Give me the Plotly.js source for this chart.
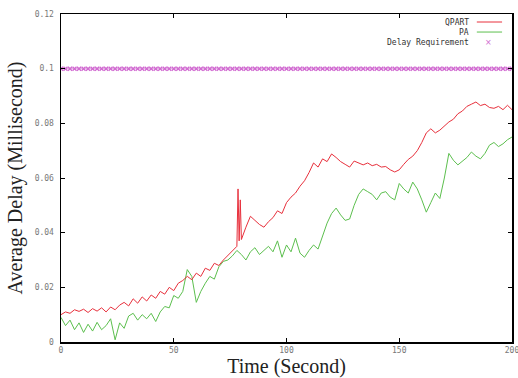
<!DOCTYPE html>
<html>
<head>
<meta charset="utf-8">
<script src="https://cdn.plot.ly/plotly-3.0.1.min.js"></script>
<style>html,body{margin:0;padding:0;background:#fff;}#chart{width:518px;height:378px;}</style>
</head>
<body>
<div id="chart"></div>
<script>
// Time axis (seconds) sampled every 2 s
const time = [0,2,4,6,8,10,12,14,16,18,20,22,24,26,28,30,32,34,36,38,40,42,44,46,48,50,52,54,56,58,60,62,64,66,68,70,72,74,76,78,80,82,84,86,88,90,92,94,96,98,100,102,104,106,108,110,112,114,116,118,120,122,124,126,128,130,132,134,136,138,140,142,144,146,148,150,152,154,156,158,160,162,164,166,168,170,172,174,176,178,180,182,184,186,188,190,192,194,196,198,200];

// QPART series (with finer sampling around the spike near 78 s)
const qpartTime = [0,2,4,6,8,10,12,14,16,18,20,22,24,26,28,30,32,34,36,38,40,42,44,46,48,50,52,54,56,58,60,62,64,66,68,70,72,74,76,78,78.5,79,79.5,80,82,84,86,88,90,92,94,96,98,100,102,104,106,108,110,112,114,116,118,120,122,124,126,128,130,132,134,136,138,140,142,144,146,148,150,152,154,156,158,160,162,164,166,168,170,172,174,176,178,180,182,184,186,188,190,192,194,196,198,200];
const qpartDelay = [0.0100,0.0110,0.0105,0.0118,0.0112,0.0120,0.0108,0.0122,0.0113,0.0125,0.0110,0.0128,0.0118,0.0135,0.0145,0.0132,0.0158,0.0142,0.0165,0.0150,0.0172,0.0160,0.0185,0.0175,0.0200,0.0188,0.0215,0.0225,0.0240,0.0228,0.0252,0.0240,0.0270,0.0262,0.0288,0.0280,0.0300,0.0318,0.0335,
  0.0350,0.0560,0.0370,0.0520,0.0375,
  0.0420,0.0460,0.0445,0.0430,0.0420,0.0440,0.0455,0.0480,0.0470,0.0510,0.0530,0.0545,0.0570,0.0590,0.0620,0.0655,0.0640,0.0670,0.0660,0.0688,0.0675,0.0660,0.0650,0.0640,0.0662,0.0655,0.0648,0.0655,0.0645,0.0650,0.0640,0.0642,0.0630,0.0622,0.0630,0.0650,0.0668,0.0680,0.0700,0.0730,0.0765,0.0780,0.0765,0.0775,0.0790,0.0805,0.0815,0.0835,0.0845,0.0862,0.0870,0.0878,0.0865,0.0870,0.0858,0.0855,0.0862,0.0850,0.0866,0.0850];

// PA series (same 2 s grid as `time`)
const paDelay = [0.0090,0.0060,0.0080,0.0045,0.0070,0.0035,0.0065,0.0040,0.0072,0.0045,
  0.0060,0.0085,0.0008,0.0070,0.0050,0.0095,0.0105,0.0080,0.0100,0.0085,
  0.0105,0.0075,0.0110,0.0130,0.0125,0.0170,0.0160,0.0185,0.0265,0.0240,
  0.0145,0.0185,0.0215,0.0240,0.0230,0.0275,0.0295,0.0300,0.0315,0.0335,
  0.0320,0.0300,0.0330,0.0345,0.0320,0.0335,0.0350,0.0330,0.0370,0.0310,
  0.0355,0.0330,0.0380,0.0325,0.0310,0.0335,0.0355,0.0340,0.0390,0.0435,
  0.0470,0.0490,0.0465,0.0445,0.0450,0.0500,0.0540,0.0560,0.0550,0.0540,
  0.0520,0.0545,0.0550,0.0530,0.0520,0.0580,0.0560,0.0545,0.0585,0.0560,
  0.0520,0.0475,0.0510,0.0545,0.0525,0.0600,0.0690,0.0665,0.0648,0.0660,
  0.0675,0.0695,0.0680,0.0670,0.0690,0.0720,0.0730,0.0715,0.0725,0.0740,0.0750];

// Delay requirement (constant threshold)
const delayRequirement = 0.1;

// Tick labels
const xTicks = [0, 50, 100, 150, 200];
const yTicks = [0, 0.02, 0.04, 0.06, 0.08, 0.1, 0.12];
const yTickText = ['0', '0.02', '0.04', '0.06', '0.08', '0.1', '0.12'];
const seriesNames = ['QPART', 'PA', 'Delay Requirement'];

const RED = '#e8303c', GREEN = '#5cbf4e', PINK = '#d068d0';

const traces = [
  {x: time, y: time.map(() => delayRequirement), name: seriesNames[2], type: 'scatter', mode: 'lines+markers',
   line: {color: '#e2a6e2', width: 1},
   marker: {symbol: 'x-thin', size: 4, color: PINK, line: {color: PINK, width: 1.3}}},
  {x: time, y: paDelay, name: seriesNames[1], type: 'scatter', mode: 'lines',
   line: {color: GREEN, width: 1}},
  {x: qpartTime, y: qpartDelay, name: seriesNames[0], type: 'scatter', mode: 'lines',
   line: {color: RED, width: 1}}
];

const tickFont = {family: 'DejaVu Sans Mono', size: 8, color: '#777'};
const titleFont = {family: 'Liberation Serif', size: 20, color: '#222'};
const legFont = {family: 'DejaVu Sans Mono', size: 8, color: '#333'};

// legend geometry in paper coords
const lx = 0.909, ly = [0.9756, 0.945, 0.9116];

const layout = {
  width: 518, height: 378,
  margin: {l: 61, r: 6, t: 14, b: 36},
  paper_bgcolor: '#fff', plot_bgcolor: '#fff',
  showlegend: false,
  xaxis: {range: [0, 200], tickvals: xTicks, ticks: 'inside', ticklen: 4, tickcolor: '#000',
    showline: true, linecolor: '#000', linewidth: 1.5, mirror: 'ticks', showgrid: false, zeroline: false,
    ticklabeloverflow: 'allow', tickfont: tickFont, title: {text: 'Time (Second)', font: titleFont, standoff: 2}},
  yaxis: {range: [0, 0.12], tickvals: yTicks, ticktext: yTickText, ticks: 'inside', ticklen: 4, tickcolor: '#000',
    showline: true, linecolor: '#000', linewidth: 1.5, mirror: 'ticks', showgrid: false, zeroline: false,
    ticklabeloverflow: 'allow', tickfont: tickFont, ticklabelstandoff: 4,
    title: {text: 'Average Delay (Millisecond)', font: titleFont, standoff: 6}},
  annotations: [
    {xref: 'paper', yref: 'paper', x: lx, y: ly[0], text: seriesNames[0], showarrow: false, xanchor: 'right', yanchor: 'middle', font: legFont},
    {xref: 'paper', yref: 'paper', x: lx, y: ly[1], text: seriesNames[1], showarrow: false, xanchor: 'right', yanchor: 'middle', font: legFont},
    {xref: 'paper', yref: 'paper', x: lx, y: ly[2], text: seriesNames[2], showarrow: false, xanchor: 'right', yanchor: 'middle', font: legFont},
    {xref: 'paper', yref: 'paper', x: 0.948, y: ly[2], text: '×', showarrow: false, xanchor: 'center', yanchor: 'middle', font: {family: 'DejaVu Sans', size: 8, color: PINK}}
  ],
  shapes: [
    {type: 'line', xref: 'paper', yref: 'paper', x0: 0.922, x1: 0.978, y0: ly[0], y1: ly[0], line: {color: RED, width: 1}},
    {type: 'line', xref: 'paper', yref: 'paper', x0: 0.922, x1: 0.978, y0: ly[1], y1: ly[1], line: {color: GREEN, width: 1}}
  ]
};

Plotly.newPlot('chart', traces, layout, {staticPlot: true, displayModeBar: false});
</script>
</body>
</html>
